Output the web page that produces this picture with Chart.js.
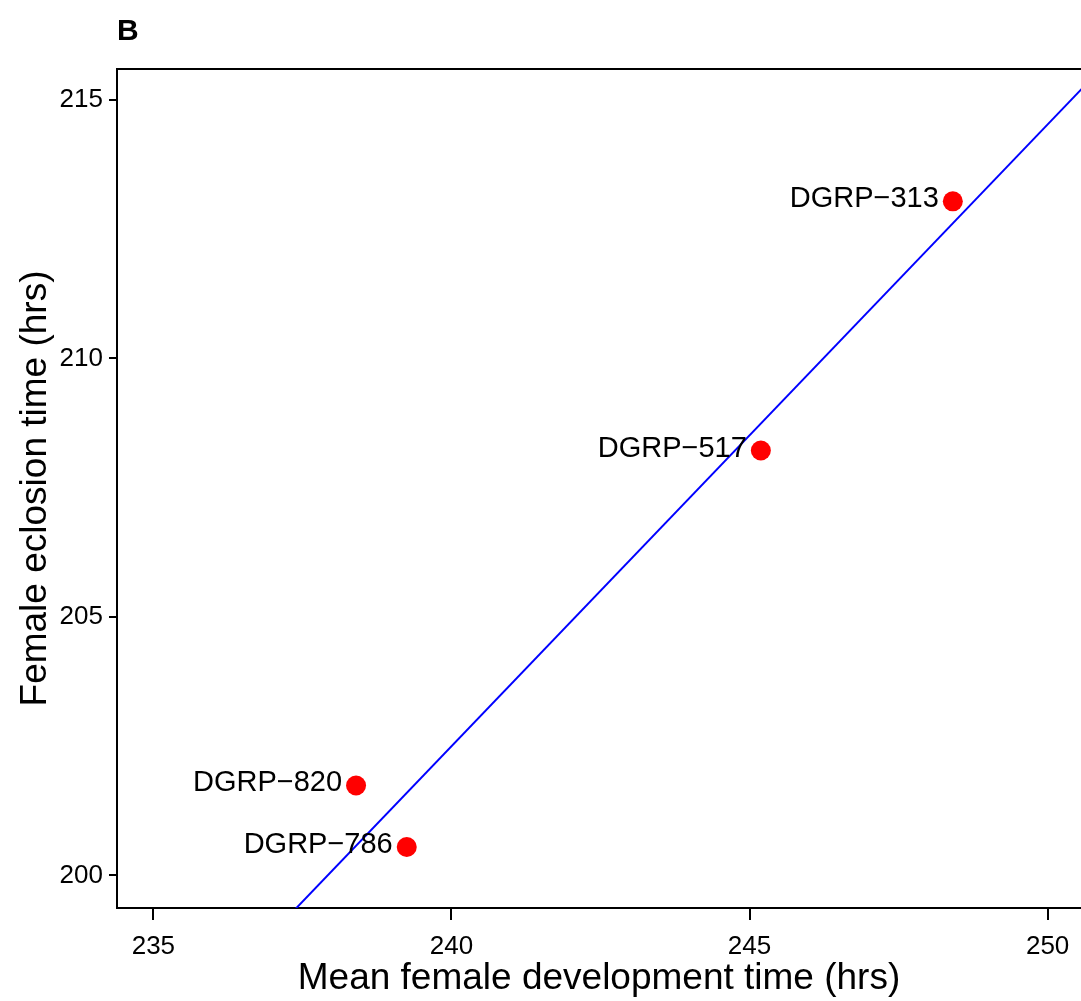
<!DOCTYPE html>
<html>
<head>
<meta charset="utf-8">
<script src="https://cdn.jsdelivr.net/npm/chart.js@4/dist/chart.umd.min.js"></script>
<style>
  html, body { margin: 0; padding: 0; background: #fff; overflow: hidden; }
  canvas { display: block; }
</style>
</head>
<body>
<canvas id="chart" width="1081" height="1001"></canvas>
<script>
// DGRP lines: mean development time vs eclosion time (females)
const lineNames = ['DGRP\u2212313', 'DGRP\u2212517', 'DGRP\u2212820', 'DGRP\u2212786'];
const devTime   = [248.41, 245.19, 238.40, 239.25];
const eclTime   = [213.04, 208.22, 201.74, 200.55];

// fitted regression line, end points (clipped to the plot box)
const fitX = [237.0, 251.0];
const fitY = [198.89, 215.73];

const xTicks = [235, 240, 245, 250];
const yTicks = [200, 205, 210, 215];

const FONT = '"Liberation Sans", Arial, Helvetica, sans-serif';

// box top edge, panel letter and point labels
const extras = {
  id: 'extras',
  afterDatasetsDraw(chart) {
    const { ctx, chartArea } = chart;
    ctx.save();
    ctx.strokeStyle = '#000';
    ctx.lineWidth = 2;
    ctx.beginPath();
    ctx.moveTo(chartArea.left - 1, chartArea.top);
    ctx.lineTo(chartArea.right + 2, chartArea.top);
    ctx.stroke();

    ctx.fillStyle = '#000';
    ctx.font = 'bold 30px ' + FONT;
    ctx.textAlign = 'left';
    ctx.textBaseline = 'alphabetic';
    ctx.fillText('B', chartArea.left, 40);

    ctx.font = '29px ' + FONT;
    ctx.textAlign = 'right';
    ctx.textBaseline = 'middle';
    chart.getDatasetMeta(1).data.forEach((pt, i) => {
      ctx.fillText(lineNames[i], pt.x - 14, pt.y - 2);
    });
    ctx.restore();
  }
};

new Chart(document.getElementById('chart'), {
  type: 'scatter',
  data: {
    datasets: [
      {
        type: 'line',
        data: fitX.map((x, i) => ({ x, y: fitY[i] })),
        borderColor: '#0000ff',
        borderWidth: 2,
        pointRadius: 0,
        fill: false
      },
      {
        data: devTime.map((x, i) => ({ x, y: eclTime[i] })),
        backgroundColor: '#ff0000',
        borderColor: '#ff0000',
        borderWidth: 0,
        pointRadius: 10
      }
    ]
  },
  options: {
    responsive: false,
    animation: false,
    layout: { autoPadding: false, padding: { top: 69, right: 0, bottom: 0, left: 0 } },
    plugins: {
      legend: { display: false },
      tooltip: { enabled: false }
    },
    scales: {
      x: {
        type: 'linear',
        min: 234.39,
        max: 250.56,
        afterBuildTicks: s => { s.ticks = xTicks.map(value => ({ value })); },
        afterFit: s => {
          s.height = 93;
          // the plot box runs to the right edge of the canvas
          s.paddingLeft = 0;
          s.paddingRight = 0;
        },
        border: { display: true, color: '#000', width: 2 },
        grid: { drawOnChartArea: false, drawTicks: true, tickLength: 12, color: '#000', lineWidth: 2 },
        ticks: { color: '#000', padding: 11, maxRotation: 0, font: { family: FONT, size: 26 } },
        title: {
          display: true,
          text: 'Mean female development time (hrs)',
          color: '#000',
          font: { family: FONT, size: 37 },
          padding: { top: 0, bottom: 0 }
        }
      },
      y: {
        type: 'linear',
        min: 199.37,
        max: 215.6,
        afterBuildTicks: s => { s.ticks = yTicks.map(value => ({ value })); },
        afterFit: s => {
          s.width = 117;
          s.paddingTop = 0;
          s.paddingBottom = 0;
        },
        border: { display: true, color: '#000', width: 2 },
        grid: { drawOnChartArea: false, drawTicks: true, tickLength: 8, color: '#000', lineWidth: 2 },
        ticks: { color: '#000', padding: 6, font: { family: FONT, size: 26 } },
        title: {
          display: true,
          text: 'Female eclosion time (hrs)',
          color: '#000',
          font: { family: FONT, size: 37 },
          padding: { top: 14, bottom: 0 }
        }
      }
    }
  },
  plugins: [extras]
});
</script>
</body>
</html>
